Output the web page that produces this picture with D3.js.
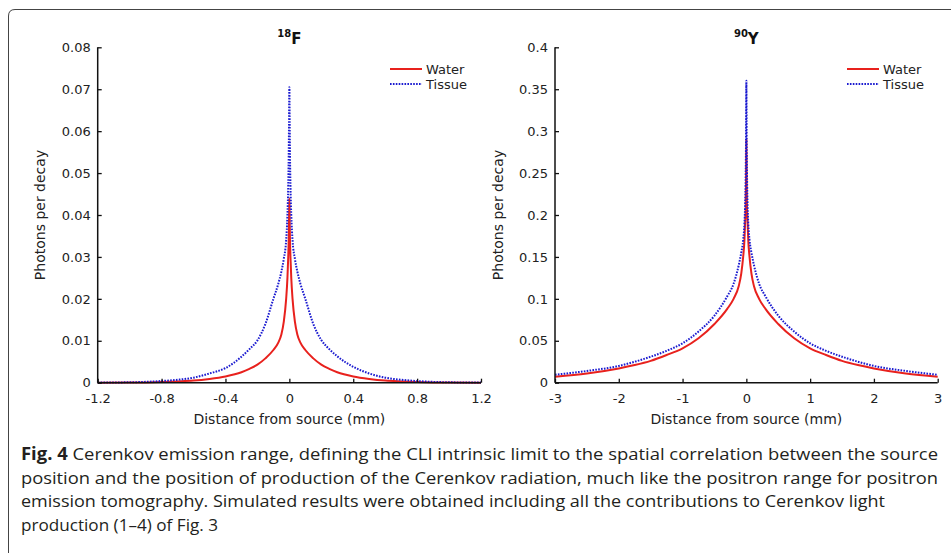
<!DOCTYPE html>
<html><head><meta charset="utf-8">
<script src="https://cdn.jsdelivr.net/npm/d3@7"></script>
<style>body{margin:0;background:#fff}svg{display:block}</style>
</head><body>
<svg id="c" width="951" height="553"></svg>
<script>
// ---- data ----
const xF = [-1.2,-1.0,-0.9,-0.8,-0.7,-0.6,-0.5,-0.4,-0.3,-0.25,-0.2,-0.15,-0.1,-0.07,-0.05,-0.035,-0.02,-0.012,-0.007,-0.004,-0.002,0,0.002,0.004,0.007,0.012,0.02,0.035,0.05,0.07,0.1,0.15,0.2,0.25,0.3,0.4,0.5,0.6,0.7,0.8,0.9,1.0,1.2];
const waterF = [0,0.00003,0.00007,0.00015,0.0003,0.0005,0.0009,0.0015,0.0025,0.0033,0.0043,0.0058,0.0078,0.0095,0.0115,0.0145,0.02,0.025,0.03,0.034,0.039,0.044,0.039,0.034,0.03,0.025,0.02,0.0145,0.0115,0.0095,0.0078,0.0058,0.0043,0.0033,0.0025,0.0015,0.0009,0.0005,0.0003,0.00015,0.00007,0.00003,0];
const tissueF = [0.00003,0.0001,0.0002,0.0004,0.0007,0.0012,0.0022,0.0035,0.0062,0.008,0.0101,0.014,0.02,0.0235,0.0265,0.0295,0.034,0.04,0.047,0.054,0.062,0.0705,0.062,0.054,0.047,0.04,0.034,0.0295,0.0265,0.0235,0.02,0.014,0.0102,0.008,0.0063,0.0038,0.0022,0.0012,0.0007,0.0004,0.0002,0.0001,0.00003];
const xY = [-3,-2.5,-2,-1.75,-1.5,-1.25,-1,-0.75,-0.5,-0.3,-0.2,-0.12,-0.08,-0.05,-0.03,-0.02,-0.01,-0.005,0,0.005,0.01,0.02,0.03,0.05,0.08,0.12,0.2,0.3,0.5,0.75,1,1.25,1.5,1.75,2,2.5,3];
const waterY = [0.0072,0.011,0.017,0.021,0.026,0.033,0.041,0.053,0.07,0.088,0.1,0.115,0.13,0.15,0.17,0.19,0.21,0.24,0.29,0.24,0.21,0.19,0.17,0.15,0.13,0.115,0.1,0.088,0.07,0.053,0.041,0.033,0.026,0.021,0.017,0.011,0.0072];
const tissueY = [0.0095,0.014,0.020,0.025,0.031,0.038,0.047,0.061,0.08,0.103,0.118,0.14,0.155,0.17,0.19,0.21,0.25,0.29,0.36,0.29,0.25,0.21,0.19,0.17,0.155,0.14,0.118,0.103,0.08,0.061,0.047,0.038,0.031,0.025,0.020,0.014,0.0095];
const ticksXF = [-1.2,-0.8,-0.4,0,0.4,0.8,1.2];
const ticksYF = [0,0.01,0.02,0.03,0.04,0.05,0.06,0.07,0.08];
const ticksXY = [-3,-2,-1,0,1,2,3];
const ticksYY = [0,0.05,0.1,0.15,0.2,0.25,0.3,0.35,0.4];
const seriesNames = ["Water","Tissue"];
const xLabel = "Distance from source (mm)";
const yLabel = "Photons per decay";
const captionBold = "Fig. 4";
const captionLines = [
 "Cerenkov emission range, defining the CLI intrinsic limit to the spatial correlation between the source",
 "position and the position of production of the Cerenkov radiation, much like the positron range for positron",
 "emission tomography. Simulated results were obtained including all the contributions to Cerenkov light",
 "production (1–4) of Fig. 3"
];

const svg = d3.select("#c");
// frame
svg.append("path").attr("d","M8.5,553 L8.5,16 Q8.5,9.5 15,9.5 L951,9.5")
  .attr("fill","none").attr("stroke","#444").attr("stroke-width",1);

const AX = "DejaVu Sans, sans-serif";
function panel(opt){
  const g = svg.append("g");
  const x = d3.scaleLinear().domain(opt.xd).range([opt.left, opt.right]);
  const y = d3.scaleLinear().domain(opt.yd).range([382.7, 47.3]);
  const line = (xs,vs)=>d3.line().x((d,i)=>x(xs[i])).y(d=>y(d)).curve(d3.curveMonotoneX)(vs);
  g.append("path").attr("d", line(opt.xs, opt.w)).attr("fill","none").attr("stroke","#e8211d").attr("stroke-width",2);
  g.append("path").attr("d", line(opt.xs, opt.t)).attr("fill","none").attr("stroke","#1b1bd0").attr("stroke-width",2).attr("stroke-dasharray","1.6,1.3");
  const ax = g.append("g").attr("transform",`translate(0,${y(0)})`)
    .call(d3.axisBottom(x).tickValues(opt.tx).tickSize(-4).tickPadding(11).tickFormat(d=>String(d)));
  const ay = g.append("g").attr("transform",`translate(${x(opt.xd[0])},0)`)
    .call(d3.axisLeft(y).tickValues(opt.ty).tickSize(-4).tickPadding(7).tickFormat(d=>String(d)));
  [ax,ay].forEach(a=>{
    a.select(".domain").attr("stroke","#111").attr("stroke-width",1.5);
    a.selectAll(".tick line").attr("stroke","#111").attr("stroke-width",1.3);
    a.selectAll("text").attr("font-family",AX).attr("font-size",13).attr("fill","#222");
  });
  ax.select(".domain").attr("d",`M${opt.left},0H${opt.right}`);
  ay.select(".domain").attr("d",`M0,${y(0)}V${y(opt.yd[1])}`);
  const cx = (opt.left+opt.right)/2;
  const t = g.append("text").attr("x",cx).attr("y",44).attr("text-anchor","middle")
    .attr("font-family",AX).attr("font-weight","bold").attr("fill","#111");
  t.append("tspan").attr("font-size",10).attr("dy",-7).text(opt.iso[0]);
  t.append("tspan").attr("font-size",15).attr("dy",7).text(opt.iso[1]);
  g.append("text").attr("x",cx).attr("y",424).attr("text-anchor","middle")
    .attr("font-family",AX).attr("font-size",14).attr("fill","#222").text(xLabel);
  g.append("text").attr("transform",`translate(${opt.ylx},215) rotate(-90)`).attr("text-anchor","middle")
    .attr("dy","0.35em").attr("font-family",AX).attr("font-size",14).attr("fill","#222").text(yLabel);
  const lx = opt.legX;
  [[69,"#e8211d",null],[84,"#1b1bd0","1.6,1.3"]].forEach((r,i)=>{
    g.append("line").attr("x1",lx).attr("x2",lx+32).attr("y1",r[0]).attr("y2",r[0])
      .attr("stroke",r[1]).attr("stroke-width",2).attr("stroke-dasharray",r[2]);
    g.append("text").attr("x",lx+36).attr("y",r[0]).attr("dy","0.35em").attr("font-family",AX)
      .attr("font-size",13).attr("fill","#222").text(seriesNames[i]);
  });
}
panel({xd:[-1.2,1.2], yd:[0,0.08], left:97.7, right:481, xs:xF, w:waterF, t:tissueF, tx:ticksXF, ty:ticksYF, iso:["18","F"], ylx:40, legX:390});
panel({xd:[-3,3], yd:[0,0.4], left:555, right:937.7, xs:xY, w:waterY, t:tissueY, tx:ticksXY, ty:ticksYY, iso:["90","Y"], ylx:498, legX:847});

// caption
const CF = "Open Sans, Noto Sans, sans-serif";
const ends = [938, 938, 885, 218];
const base0 = 460, lh = 23.5;
captionLines.forEach((s,i)=>{
  const t = svg.append("text").attr("x",21).attr("y",base0+i*lh).attr("font-family",CF)
    .attr("font-size",17).attr("fill","#231f20")
    .attr("textLength",ends[i]-21).attr("lengthAdjust","spacingAndGlyphs");
  if(i===0){ t.append("tspan").attr("font-weight","bold").text(captionBold+"  "); }
  t.append("tspan").text(s);
});
</script>
</body></html>
